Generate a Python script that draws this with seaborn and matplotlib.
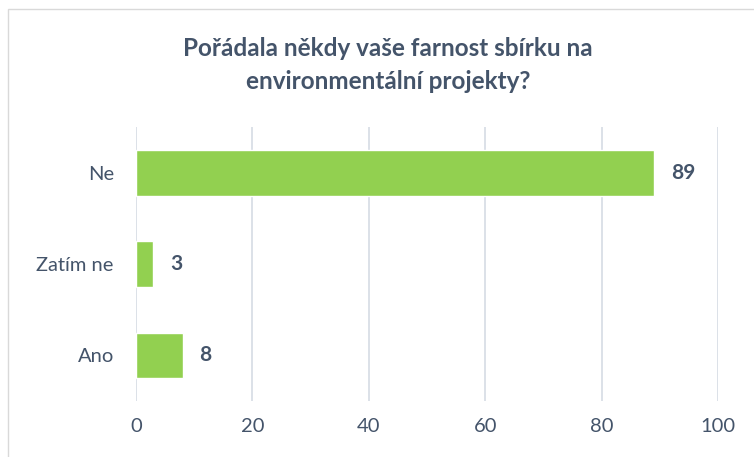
import pandas as pd
import matplotlib.pyplot as plt
import seaborn as sns
from matplotlib.patches import Rectangle

# data
categories = ["Ne", "Zatím ne", "Ano"]
values = [89, 3, 8]
x_ticks = [0, 20, 40, 60, 80, 100]

df = pd.DataFrame({"odpoved": categories, "pocet": values})

text_color = "#44546A"
bar_color = "#92D050"
grid_color = "#D9DEE6"

sns.set_theme(style="white")
plt.rcParams["font.family"] = ["Lato", "DejaVu Sans"]

fig = plt.figure(figsize=(7.54, 4.57), dpi=100)
ax = fig.add_axes([136 / 754, 56 / 457, 582 / 754, 274 / 457])

sns.barplot(data=df, x="pocet", y="odpoved", color=bar_color, width=0.5,
            saturation=1, ax=ax, zorder=3)

ax.set_xlim(0, 100)
ax.set_ylim(2.5, -0.5)
ax.set_xticks(x_ticks)
ax.grid(axis="x", color=grid_color, linewidth=1.3, zorder=0)
ax.set_axisbelow(True)
for s in ax.spines.values():
    s.set_visible(False)
ax.tick_params(length=0, labelsize=14.5, colors=text_color)
ax.tick_params(axis="x", pad=12)
ax.tick_params(axis="y", pad=16)
ax.set_xlabel("")
ax.set_ylabel("")

# value labels
for i, v in enumerate(values):
    ax.annotate(str(v), (v, i), xytext=(12, 0), textcoords="offset points",
                va="center", ha="left", fontsize=15, fontweight="bold",
                color=text_color)

# title
fig.text(388 / 754, 1 - 65 / 457,
         "Pořádala někdy vaše farnost sbírku na\nenvironmentální projekty?",
         ha="center", va="center", fontsize=17.5, fontweight="bold",
         color=text_color, linespacing=1.5)

# outer chart frame
fig.patches.append(Rectangle((8 / 754, -0.1), 1.2, 1 - 9 / 457 + 0.1,
                             transform=fig.transFigure, fill=False,
                             edgecolor="#D9D9D9", linewidth=1))

fig.savefig("out.png", dpi=100)
